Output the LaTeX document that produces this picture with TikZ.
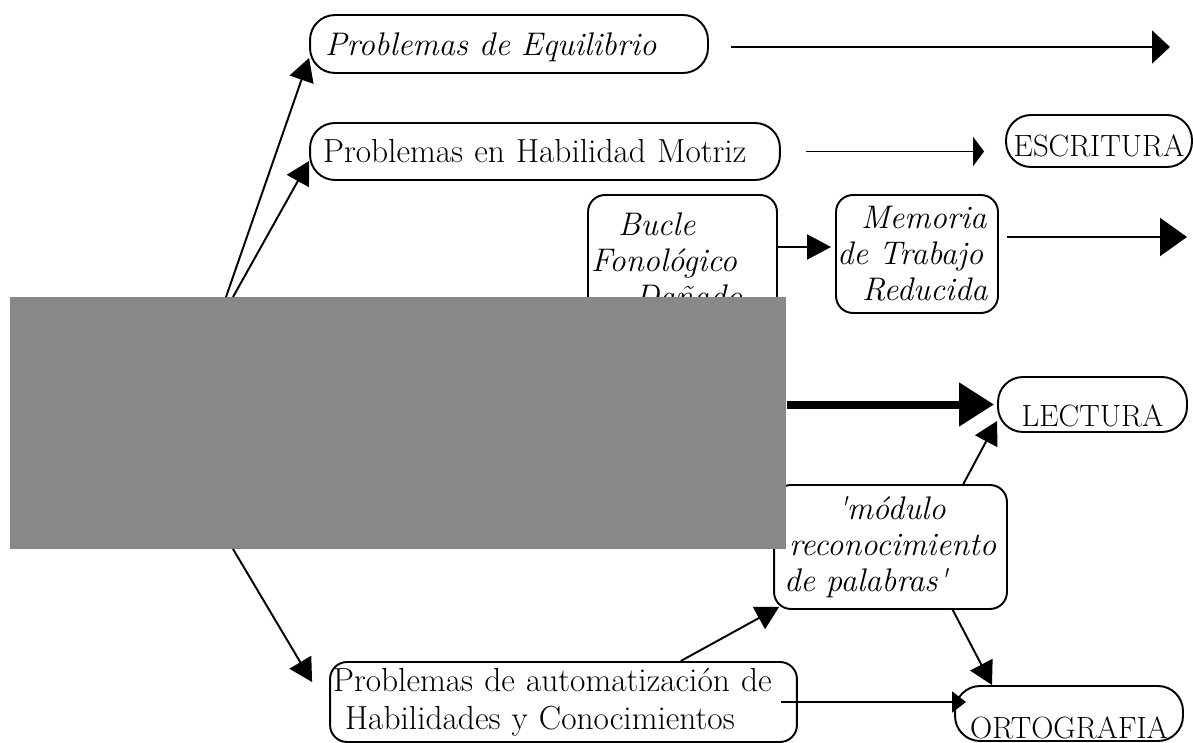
\documentclass[tikz,border=0pt]{standalone}
\usepackage{amsmath}
\usepackage{tikz}
\usetikzlibrary{arrows.meta,calc}
\definecolor{maskgrey}{RGB}{136,136,136}
\newcommand{\bigtext}{\fontsize{19}{21.5}\selectfont}
\newcommand{\ittext}{\fontsize{18.6}{20.5}\selectfont\itshape}
\newcommand{\captext}{\fontsize{17.5}{20}\selectfont}

\begin{document}
\begin{tikzpicture}
      [x=0.02cm,y=-0.02cm,line width=1.1pt,
       pill/.style={draw,rounded corners=0.5cm,inner sep=0pt,font=\captext,text depth=0pt},
       long pill/.style={pill,font=\bigtext,align=left,text height=0.46cm},
       box/.style={draw,rounded corners=0.34cm,inner sep=0pt,font=\ittext,align=left},
       arr/.style={-{Triangle[length=0.46cm,width=0.5cm]}}]
        \useasboundingbox (0,0) rectangle (1193,743);

        \node[long pill,font=\ittext,minimum width=7.96cm,minimum height=1.16cm,text width=7.36cm,inner xsep=0.3cm] (equil) at (509,44) {Problemas de Equilibrio};
        \node[long pill,minimum width=9.4cm,minimum height=1.14cm,text width=8.88cm,inner xsep=0.26cm] (motriz) at (545,151.5) {Problemas en Habilidad Motriz};
        \node[pill,minimum width=3.72cm,minimum height=1.04cm,text height=0.64cm] (escrit) at (1099,141) {ESCRITURA};
        \node[box,minimum width=3.78cm,minimum height=2.6cm,text width=3.66cm,inner xsep=0.06cm] (bucle) at (682.5,260) {\hspace*{0.54cm}Bucle\\Fonológico\\\hspace*{0.88cm}Dañado};
        \node[box,minimum width=3.24cm,minimum height=2.36cm,text width=3.2cm,inner xsep=0.02cm] (memoria) at (917,254) {\hspace*{0.48cm}Memoria\\de Trabajo\\\hspace*{0.5cm}Reducida};
        \node[pill,minimum width=3.78cm,minimum height=1.1cm,text height=0.9cm] (lectura) at (1092.5,404.5) {LECTURA};
        \node[box,minimum width=4.66cm,minimum height=2.48cm,text width=4.26cm,inner xsep=0.2cm] (modulo) at (890.5,547) {\hspace*{1.06cm}\textquotesingle módulo\\\hspace*{0.1cm}reconocimiento\\de palabras\textquotesingle};
        \node[box,font=\bigtext,minimum width=9.34cm,minimum height=1.6cm,text width=9.22cm,inner xsep=0.06cm] (autom) at (563.5,702) {Problemas de automatización de\\\hspace*{0.24cm}Habilidades y Conocimientos};
        \node[pill,minimum width=4.56cm,minimum height=1.1cm,text height=0.98cm] (orto) at (1069,713.5) {ORTOGRAFIA};

        \node[fill=maskgrey,minimum width=15.52cm,minimum height=5.04cm,inner sep=0pt] (mask) at (398,423) {};

        \coordinate (eqTip) at (1170,47);
        \coordinate (memTip) at (1187,237);
        \coordinate (fromA) at (226,297);
        \coordinate (fromB) at (233,297);
        \coordinate (fromC) at (233,549);

        \draw[-{Triangle[length=0.36cm,width=0.66cm]},shorten <=0.44cm] (equil.east |- eqTip) -- (eqTip);
        \draw[-{Triangle[length=0.22cm,width=0.58cm]},shorten <=0.5cm,shorten >=0.42cm] (motriz.east) -- (motriz.east -| escrit.west);
        \draw[-{Triangle[length=0.48cm,width=0.5cm]},shorten >=0.08cm] ([yshift=0.26cm]bucle.east) -- ([yshift=0.14cm]memoria.west);
        \draw[-{Triangle[length=0.54cm,width=0.76cm]},shorten <=0.16cm] (memoria.east |- memTip) -- (memTip);
        \draw[-{Triangle[length=0.7cm,width=0.84cm]},line width=0.16cm,shorten >=0.06cm] (mask.east |- lectura.west) -- (lectura.west);

        \draw[arr] (fromA) -- ([yshift=0.32cm]equil.south west);
        \draw[arr] (fromB) -- ([yshift=0.4cm]motriz.south west);
        \draw[arr] (fromC) -- ([xshift=-0.34cm,yshift=0.4cm]autom.west);

        \draw[arr] ($(modulo.north)!0.62!(modulo.north east)$) -- ([yshift=0.24cm]lectura.south west);
        \draw[arr] ($(autom.north)!0.5!(autom.north east)$) -- ([xshift=0.12cm,yshift=0.06cm]modulo.south west);
        \draw[arr] ($(modulo.south)!0.53!(modulo.south east)$) -- ($(orto.north west)!0.33!(orto.north)$);
        \draw[-{Triangle[length=0.28cm,width=0.42cm]}] ([xshift=-0.34cm]autom.east) -- ([xshift=0.24cm]autom.east -| orto.west);

      \end{tikzpicture}
\end{document}
